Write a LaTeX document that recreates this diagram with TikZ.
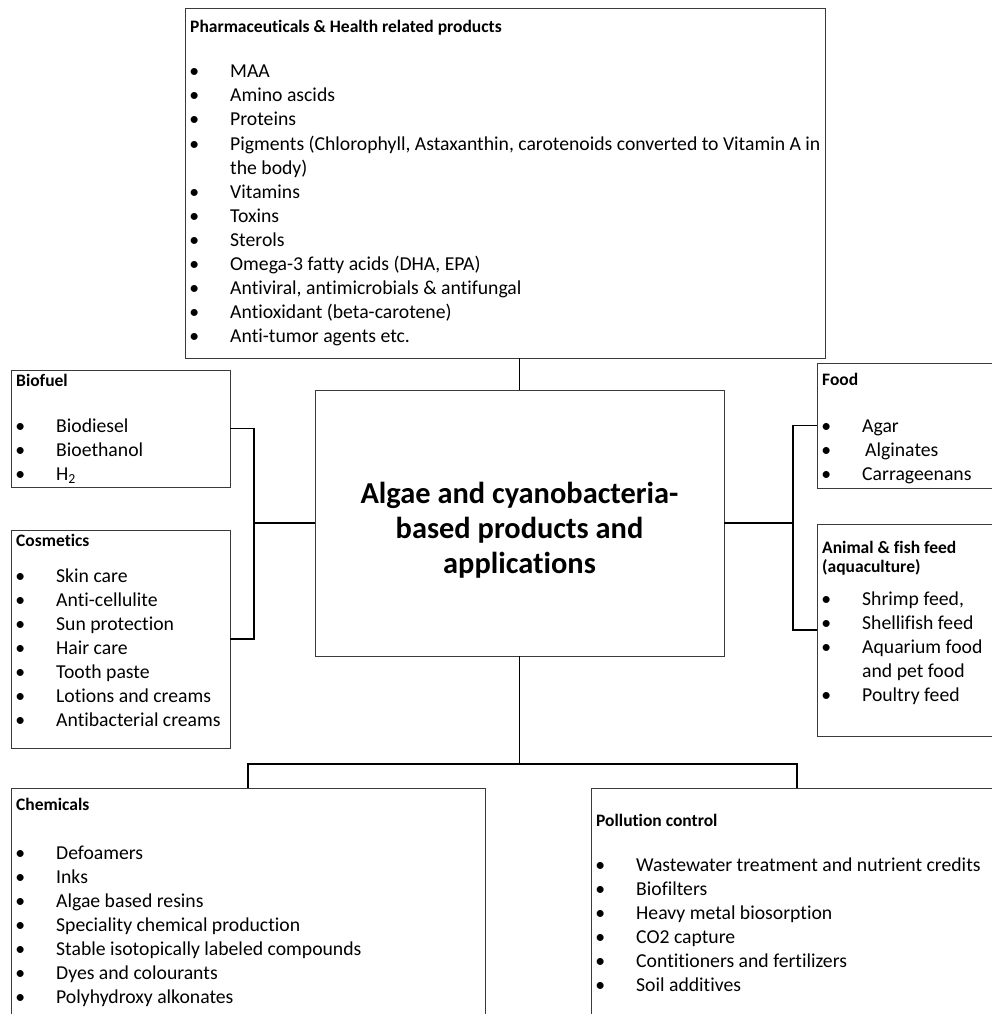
\documentclass[tikz,border=0pt]{standalone}
\usepackage{fontspec}
\setmainfont{Carlito}[Ligatures=NoCommon]
\definecolor{boxgray}{HTML}{3A3A3A}
\newcommand\itemfont{\fontsize{19.7}{24}\selectfont}
\newcommand\headfont{\fontsize{17.5}{20}\selectfont\bfseries}
\newcommand\titlefont{\fontsize{30.4}{35}\selectfont\bfseries}
% bullet hung to the left of the item text
\newcommand\bul{\llap{\textbullet\hspace{31pt}}}
% \blist{prefix}{x}{first baseline}{items}: bulleted lines, 24pt apart
\newcommand\blist[4]{%
  \foreach \itx [count=\i from 0] in {#4} {%
    \node[itm] (#1-\i) at (#2,{#3+24*\i}) {\bul\itx};}}
\begin{document}
\begin{tikzpicture}[x=1pt,y=-1pt,
  box/.style={draw=boxgray,line width=0.9pt,anchor=north west,inner sep=0pt,outer sep=0pt},
  link/.style={draw=black,line width=1.5pt},
  itm/.style={anchor=base west,inner sep=0pt,font=\itemfont},
  hd/.style={anchor=base west,inner sep=0pt,font=\headfont},
  ttl/.style={anchor=base,inner sep=0pt,font=\titlefont}]
\useasboundingbox (0,0) rectangle (992,1014);

% boxes
\node[box,minimum width=640pt,minimum height=350pt] (pharma) at (185,8) {};
\node[box,minimum width=409pt,minimum height=266pt] (center) at (315,390) {};
\node[box,minimum width=219pt,minimum height=117pt] (biofuel) at (11,370) {};
\node[box,minimum width=219pt,minimum height=218pt] (cosm) at (11,530) {};
\node[box,minimum width=180pt,minimum height=125pt] (food) at (817,363) {};
\node[box,minimum width=180pt,minimum height=212pt] (feed) at (817,524) {};
\node[box,minimum width=474pt,minimum height=240pt] (chem) at (11,788) {};
\node[box,minimum width=412pt,minimum height=240pt] (poll) at (591,788) {};

% connectors
\path (center.west) ++(-61,0) coordinate (lj);
\path (center.east) ++(69,0) coordinate (rj);
\path (center.south) ++(0,108) coordinate (bus);
\draw[link] (center.north) -- (center.north |- pharma.south);
\draw[link] (biofuel.east) -| (lj) |- (cosm.east);
\draw[link] (lj) -- (center.west);
\draw[link] (food.west) -| (rj) |- (feed.west);
\draw[link] (rj) -- (center.east);
\draw[link] (center.south) -- (bus);
\draw[link] (chem.north) |- (bus) -| (poll.north);

% central title
\node[ttl] (t1) at (519.5,503) {Algae and cyanobacteria-};
\node[ttl] (t2) at (519.5,538) {based products and};
\node[ttl] (t3) at (519.5,573) {applications};

% Pharmaceuticals
\node[hd] (h-ph) at (190,33) {Pharmaceuticals \& Health related products};
\blist{pa}{230}{78}{MAA, Amino ascids, Proteins,
  {Pigments (Chlorophyll, Astaxanthin, carotenoids converted to Vitamin A in}}
\node[itm] (pa-c) at (230,174) {the body)};
\blist{pb}{230}{198}{Vitamins, Toxins, Sterols, {Omega-3 fatty acids (DHA, EPA)},
  {Antiviral, antimicrobials \& antifungal}, Antioxidant (beta-carotene),
  Anti-tumor agents etc.}

% Biofuel
\node[hd] (h-bf) at (16,386) {Biofuel};
\blist{bf}{56}{432}{Biodiesel, Bioethanol, H\textsubscript{2}}

% Cosmetics
\node[hd] (h-co) at (16,546) {Cosmetics};
\blist{co}{56}{582}{Skin care, Anti-cellulite, Sun protection, Hair care,
  Tooth paste, Lotions and creams, Antibacterial creams}

% Food
\node[hd] (h-fo) at (822,385) {Food};
\blist{fo}{862}{432}{Agar, \hspace{3pt}Alginates, Carrageenans}

% Animal & fish feed
\node[hd] (h-fe1) at (822,553) {Animal \& fish feed};
\node[hd] (h-fe2) at (822,572) {(aquaculture)};
\blist{fa}{862}{605}{{Shrimp feed,}, Shellifish feed, Aquarium food}
\node[itm] (fa-c) at (862,677) {and pet food};
\blist{fb}{862}{701}{Poultry feed}

% Chemicals
\node[hd] (h-ch) at (16,810) {Chemicals};
\blist{ch}{56}{859}{Defoamers, Inks, Algae based resins, Speciality chemical production,
  Stable isotopically labeled compounds, Dyes and colourants, Polyhydroxy alkonates}

% Pollution control
\node[hd] (h-po) at (596,826) {Pollution control};
\blist{po}{636}{871}{Wastewater treatment and nutrient credits, Biofilters,
  Heavy metal biosorption, CO2 capture, Contitioners and fertilizers, Soil additives}
\end{tikzpicture}
\end{document}
